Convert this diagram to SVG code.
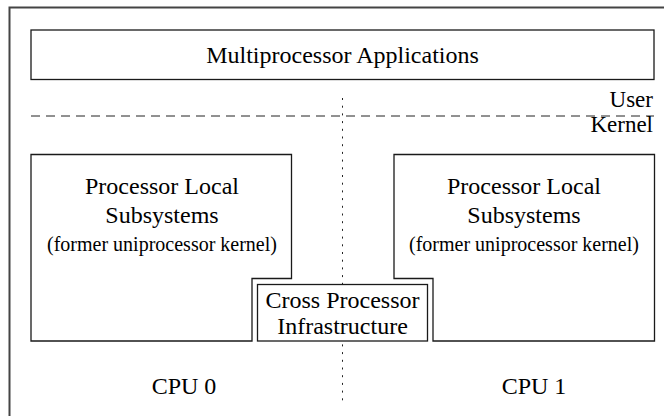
<svg xmlns="http://www.w3.org/2000/svg" width="664" height="416" viewBox="0 0 664 416">
<style>
.t{font-family:"Liberation Serif","Times New Roman",serif;fill:#000;font-size:24px}
.s{font-size:20px}
.box{fill:#fff;stroke:#1a1a1a;stroke-width:1.3}
</style>
<rect width="664" height="416" fill="#fff"/>
<g id="frame"><path d="M9.5,420 V7.5 H670" fill="none" stroke="#444" stroke-width="2"/></g>
<g id="connectors">
<line x1="31" y1="116" x2="654" y2="116" stroke="#222" stroke-width="1" stroke-dasharray="9,6"/>
<line x1="342.5" y1="98" x2="342.5" y2="402" stroke="#222" stroke-width="1" stroke-dasharray="2,5.7"/>
</g>
<g id="apps">
<rect class="box" x="31" y="30" width="623" height="49.5"/>
<text class="t" x="342.5" y="63" text-anchor="middle">Multiprocessor Applications</text>
</g>
<g id="labels">
<text class="t" x="653" y="107" text-anchor="end" style="font-size:23px">User</text>
<text class="t" x="653" y="132" text-anchor="end" style="font-size:23px">Kernel</text>
</g>
<g id="local0">
<path class="box" d="M31,154.5 H291.5 V278.5 H252 V341 H31 Z"/>
<text class="t" x="162" y="193.5" text-anchor="middle">Processor Local</text>
<text class="t" x="162" y="223" text-anchor="middle">Subsystems</text>
<text class="t s" x="162" y="251" text-anchor="middle">(former uniprocessor kernel)</text>
</g>
<g id="local1">
<path class="box" d="M394,154.5 H654.5 V341 H433 V278.5 H394 Z"/>
<text class="t" x="524" y="193.5" text-anchor="middle">Processor Local</text>
<text class="t" x="524" y="223" text-anchor="middle">Subsystems</text>
<text class="t s" x="524" y="251" text-anchor="middle">(former uniprocessor kernel)</text>
</g>
<g id="cross">
<rect class="box" x="257.5" y="284.5" width="170" height="56.5"/>
<text class="t" x="342.5" y="307.5" text-anchor="middle">Cross Processor</text>
<text class="t" x="342.5" y="334" text-anchor="middle">Infrastructure</text>
</g>
<g id="cpu0"><text class="t" x="184" y="394" text-anchor="middle">CPU 0</text></g>
<g id="cpu1"><text class="t" x="534" y="394" text-anchor="middle">CPU 1</text></g>
</svg>
